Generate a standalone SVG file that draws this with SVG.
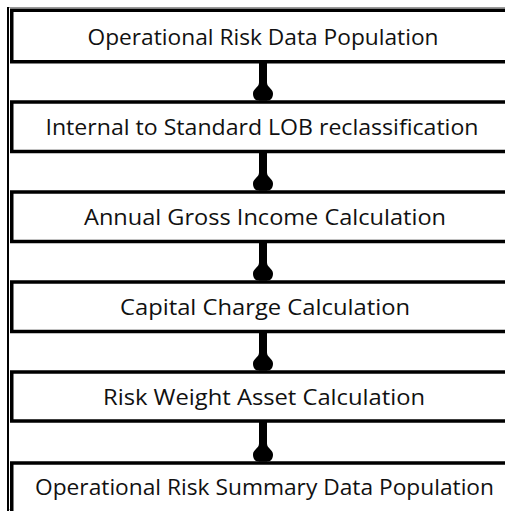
<svg xmlns="http://www.w3.org/2000/svg" width="505" height="511" viewBox="0 0 505 511">
<style>
.box{fill:#fff;stroke:#000;stroke-width:3.5}
.lbl{font-family:"Open Sans","Noto Sans",sans-serif;font-size:22px;fill:#111;text-anchor:middle}
.conn{stroke:#000;stroke-width:8;fill:none}
</style>
<defs>
<marker id="bulb" markerUnits="userSpaceOnUse" viewBox="-20 -12 22 24" markerWidth="22" markerHeight="24" refX="0" refY="0" orient="auto" overflow="visible">
<path d="M-18,-4 C-13,-4 -12,-10 -7,-10 C-3,-10 0,-8 0,-5 L0,5 C0,8 -3,10 -7,10 C-12,10 -13,4 -18,4 Z" fill="#000"/>
</marker>
</defs>
<rect x="0" y="0" width="505" height="511" fill="#fff"/>
<line x1="7" y1="7.5" x2="505" y2="7.5" stroke="#999" stroke-width="1"/>
<line x1="7" y1="509.5" x2="505" y2="509.5" stroke="#bbb" stroke-width="1"/>
<line x1="8" y1="7" x2="8" y2="511" stroke="#000" stroke-width="2"/>
<g id="connectors">
<line class="conn" x1="263" y1="62" x2="263" y2="100.5" marker-end="url(#bulb)"/>
<line class="conn" x1="263" y1="152" x2="263" y2="190.5" marker-end="url(#bulb)"/>
<line class="conn" x1="263" y1="242" x2="263" y2="280.5" marker-end="url(#bulb)"/>
<line class="conn" x1="263" y1="332" x2="263" y2="370.5" marker-end="url(#bulb)"/>
<line class="conn" x1="263" y1="422" x2="263" y2="461.5" marker-end="url(#bulb)"/>
</g>
<g id="n1"><rect class="box" x="11.75" y="10.25" width="520" height="51.5"/><text class="lbl" x="263" y="45" textLength="351" lengthAdjust="spacingAndGlyphs">Operational Risk Data Population</text></g>
<g id="n2"><rect class="box" x="11.75" y="102" width="520" height="49.5"/><text class="lbl" x="262" y="135" textLength="433" lengthAdjust="spacingAndGlyphs">Internal to Standard LOB reclassification</text></g>
<g id="n3"><rect class="box" x="11.75" y="192" width="520" height="49.5"/><text class="lbl" x="265" y="225" textLength="362" lengthAdjust="spacingAndGlyphs">Annual Gross Income Calculation</text></g>
<g id="n4"><rect class="box" x="11.75" y="282" width="520" height="49.5"/><text class="lbl" x="265" y="315" textLength="290" lengthAdjust="spacingAndGlyphs">Capital Charge Calculation</text></g>
<g id="n5"><rect class="box" x="11.75" y="372" width="520" height="49"/><text class="lbl" x="264" y="405" textLength="322" lengthAdjust="spacingAndGlyphs">Risk Weight Asset Calculation</text></g>
<g id="n6"><rect class="box" x="11.75" y="463" width="520" height="60"/><text class="lbl" x="264.5" y="495" textLength="459" lengthAdjust="spacingAndGlyphs">Operational Risk Summary Data Population</text></g>
</svg>
